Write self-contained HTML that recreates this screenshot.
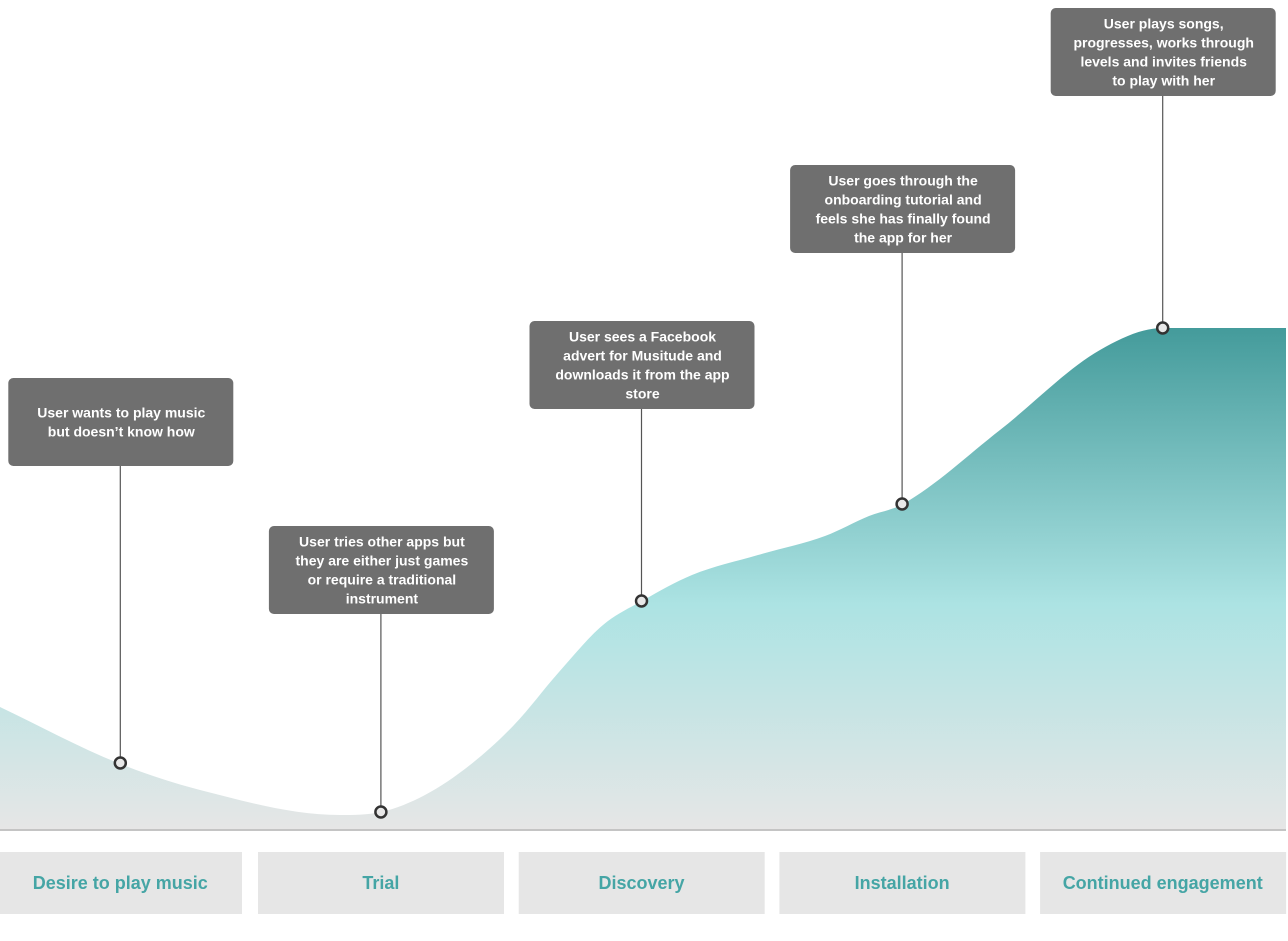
<!DOCTYPE html>
<html><head><meta charset="utf-8"><style>
body{margin:0;width:1288px;height:936px;background:#fff;overflow:hidden;font-family:"Liberation Sans",sans-serif}
</style></head><body>
<svg id="chart" width="1288" height="936" xmlns="http://www.w3.org/2000/svg">
<defs><linearGradient id="g" x1="0" y1="328" x2="0" y2="830" gradientUnits="userSpaceOnUse">
<stop offset="0" stop-color="#449b9b"/><stop offset="0.55" stop-color="#ace3e3"/><stop offset="1" stop-color="#e6e6e6"/></linearGradient></defs>
</svg>
<script>
const stages=["Desire to play music","Trial","Discovery","Installation","Continued engagement"];
const milestoneValues=[67,18,229,326,502];
const shapeX=[0,118,200,340,381,425,470,514,559,603,642,692,758,825,869,903,1000,1100,1163,1286];
const shapeV=[123,67,40,15,18,35,65,105,158,205,229,255,275,294,314,326,400,480,502,502];
const notes=[
["User wants to play music","but doesn’t know how"],
["User tries other apps but","they are either just games","or require a traditional","instrument"],
["User sees a Facebook","advert for Musitude and","downloads it from the app","store"],
["User goes through the","onboarding tutorial and","feels she has finally found","the app for her"],
["User plays songs,","progresses, works through","levels and invites friends","to play with her"]];
const boxTops=[378,526,321,165,8];
const NS="http://www.w3.org/2000/svg",svg=document.getElementById("chart");
const base=830,bandW=260.6;
const xs=i=>i*bandW+bandW/2-10;
const ys=v=>base-v;
function mk(t,a,p){const e=document.createElementNS(NS,t);for(const k in a)e.setAttribute(k,a[k]);(p||svg).appendChild(e);return e;}
const n=shapeX.length,X=shapeX,Y=shapeV.map(ys);
const dl=[],m=[];
for(let i=0;i<n-1;i++)dl.push((Y[i+1]-Y[i])/(X[i+1]-X[i]));
m[0]=dl[0];m[n-1]=dl[n-2];
for(let i=1;i<n-1;i++){m[i]=(dl[i-1]*dl[i]<=0)?0:(dl[i-1]+dl[i])/2;}
for(let i=0;i<n-1;i++){if(dl[i]===0){m[i]=0;m[i+1]=0;continue;}const a=m[i]/dl[i],b=m[i+1]/dl[i],s=a*a+b*b;if(s>9){const t=3/Math.sqrt(s);m[i]=t*a*dl[i];m[i+1]=t*b*dl[i];}}
let d=`M0,${base} L${X[0]},${Y[0]}`;
for(let i=0;i<n-1;i++){const h=(X[i+1]-X[i])/3;d+=` C${X[i]+h},${Y[i]+m[i]*h} ${X[i+1]-h},${Y[i+1]-m[i+1]*h} ${X[i+1]},${Y[i+1]}`;}
d+=` L${X[n-1]},${base} Z`;
const area=mk("path",{d:d,fill:"url(#g)"});


const bl=mk("line",{x1:0,x2:1286,y1:base,y2:base,stroke:"#c4c4c4","stroke-width":2});


stages.forEach((s,i)=>{
 const r=mk("rect",{x:i===0?0:258+(i-1)*260.7,y:852,width:i===0?242:246,height:62,fill:"#e6e6e6"});
 
 
 const t=mk("text",{x:xs(i),y:889,"text-anchor":"middle",fill:"#45a5a5","font-size":"18","font-weight":"bold"});
 t.textContent=s;
 
 
 const mx=xs(i),my=ys(milestoneValues[i]),bt=boxTops[i],bh=88;
 const ln=mk("line",{x1:mx,x2:mx,y1:bt+bh,y2:my,stroke:"#555","stroke-width":1.2});
 
 
 const c=mk("circle",{cx:mx,cy:my,r:5.5,fill:"#e8e8e8",stroke:"#333","stroke-width":2.5});
 
 
 const b=mk("rect",{x:mx-112,y:bt,width:225,height:bh,rx:5,fill:"#6f6f6f"});
 
 
 const L=notes[i],lh=19,start=bt+bh/2-(L.length-1)*lh/2+5;
 L.forEach((line,j)=>{const tt=mk("text",{x:mx+1,y:start+j*lh,"text-anchor":"middle",fill:"#fff","font-size":"14","font-weight":"bold"});
 tt.textContent=line;
 
 });
});
</script>
</body></html>
